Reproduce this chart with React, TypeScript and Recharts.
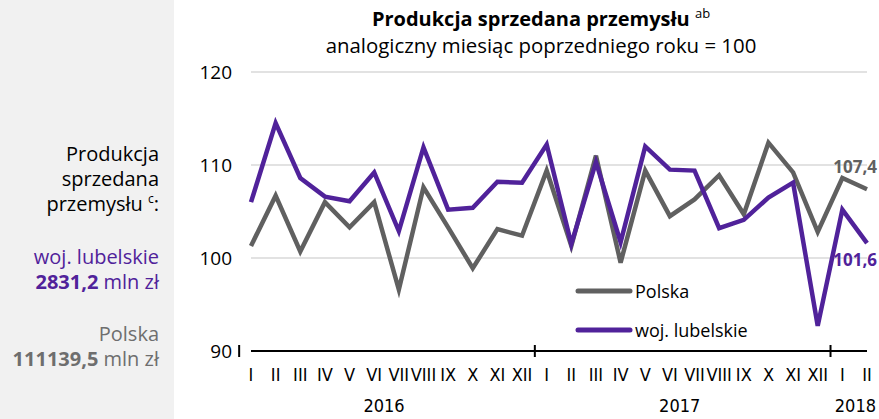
import React from "react";
import {
  LineChart,
  Line,
  XAxis,
  YAxis,
  CartesianGrid,
  Legend,
  ReferenceDot,
} from "recharts";

const months = [
  "I", "II", "III", "IV", "V", "VI", "VII", "VIII", "IX", "X", "XI", "XII",
  "I", "II", "III", "IV", "V", "VI", "VII", "VIII", "IX", "X", "XI", "XII",
  "I", "II",
];
const years = ["2016", "2016", "2016", "2016", "2016", "2016", "2016", "2016", "2016", "2016", "2016", "2016",
  "2017", "2017", "2017", "2017", "2017", "2017", "2017", "2017", "2017", "2017", "2017", "2017",
  "2018", "2018"];

const polska = [
  101.3, 106.7, 100.7, 106.0, 103.3, 106.0, 96.6, 107.6, 103.3, 98.9, 103.1, 102.4,
  109.4, 101.3, 111.0, 99.5, 109.4, 104.5, 106.3, 108.9, 104.7, 112.4, 109.2, 102.8,
  108.6, 107.4,
];
const lubelskie = [
  106.0, 114.5, 108.6, 106.6, 106.1, 109.2, 102.9, 111.9, 105.2, 105.4, 108.2, 108.1,
  112.2, 101.5, 110.3, 101.7, 112.0, 109.5, 109.4, 103.2, 104.1, 106.5, 108.1, 92.7,
  105.2, 101.6,
];
const yTicks = [90, 100, 110, 120];

const data = months.map((m, i) => ({
  idx: i,
  month: m,
  year: years[i],
  polska: polska[i],
  lubelskie: lubelskie[i],
}));

const LAST = months.length - 1;

const PURPLE = "#50229a";
const GRAY = "#606060";
const FONT = "'Open Sans', 'Noto Sans', sans-serif";
const NARROW = "'Liberation Sans Narrow', 'Arial Narrow', 'DejaVu Sans Condensed', sans-serif";

const W = 879;
const H = 419;
const M = { top: 72, right: 12, bottom: 0, left: 191 };
const YAXIS_W = 60;
const XAXIS_H = 68;
const PLOT_W = W - M.left - YAXIS_W - M.right;
const BAND = PLOT_W / months.length;

const MonthTick = (props: any) => {
  const { x, y, payload } = props;
  const i = payload.value as number;
  const m = months[i];
  const yr = years[i];
  const first = i === 0 || years[i - 1] !== yr;
  const count = years.filter((v) => v === yr).length;
  const pos = i - years.indexOf(yr);
  const center = (count - 1) / 2;
  const isShort = count < 12;
  const showYear = isShort ? pos === count - 1 : pos === Math.floor(center);
  const yearX = x + (center - pos) * BAND;
  return (
    <g>
      {first && (
        <line x1={x - BAND / 2} x2={x - BAND / 2} y1={y - 6} y2={y + 6} stroke="#000" strokeWidth={2} />
      )}
      <text x={x} y={y + 30} textAnchor="middle" fontFamily={NARROW} fontSize={18} fill="#000">
        {m}
      </text>
      {showYear && (
        <text
          x={isShort ? x + 9 : yearX - 2}
          y={y + 61}
          textAnchor={isShort ? "end" : "middle"}
          fontFamily={NARROW}
          fontSize={18}
          fill="#000"
        >
          {yr}
        </text>
      )}
    </g>
  );
};

const EndLabel = (color: string, text: string, dy: number) => (props: any) => {
  const vb = props.viewBox || {};
  const cx = vb.x + (vb.width || 0) / 2;
  const cy = vb.y + (vb.height || 0) / 2;
  return (
    <text x={cx + 10} y={cy + dy} textAnchor="end" fontFamily={FONT} fontWeight={700} fontSize={17} fill={color}>
      {text}
    </text>
  );
};

const fmt = (v: number) => v.toFixed(1).replace(".", ",");

const LegendContent = () => (
  <div style={{ fontFamily: FONT, fontSize: 18, color: "#000" }}>
    {[
      { name: "Polska", color: GRAY },
      { name: "woj. lubelskie", color: PURPLE },
    ].map((it, k) => (
      <div key={k} style={{ display: "flex", alignItems: "center", height: 39 }}>
        <svg width={60} height={8} style={{ marginRight: 1 }}>
          <line x1={4} x2={56} y1={4} y2={4} stroke={it.color} strokeWidth={5} strokeLinecap="round" />
        </svg>
        <span>{it.name}</span>
      </div>
    ))}
  </div>
);

export default function App() {
  return (
    <div style={{ position: "fixed", left: 0, top: 0, width: W, height: H, background: "#fff", overflow: "hidden" }}>
      <style>{`html,body{margin:0;padding:0;overflow:hidden;}`}</style>
      <div style={{ position: "absolute", left: 0, top: 0, width: 174, height: H, background: "#f1f1f1" }} />
      <div
        style={{
          position: "absolute",
          right: W - 159,
          top: 141,
          textAlign: "right",
          fontFamily: FONT,
          fontSize: 20,
          lineHeight: "25px",
          color: "#000",
          whiteSpace: "nowrap",
        }}
      >
        <div>Produkcja</div>
        <div>sprzedana</div>
        <div>
          przemysłu <sup style={{ fontSize: 12, lineHeight: 0 }}>c</sup>:
        </div>
        <div style={{ height: 28 }} />
        <div style={{ color: PURPLE }}>woj. lubelskie</div>
        <div style={{ color: PURPLE }}>
          <b>2831,2</b> mln zł
        </div>
        <div style={{ height: 27 }} />
        <div style={{ color: "#6e6e6e" }}>Polska</div>
        <div style={{ color: "#6e6e6e" }}>
          <b>111139,5</b> mln zł
        </div>
      </div>
      <div
        style={{
          position: "absolute",
          left: 541 - 300,
          width: 600,
          top: 5,
          textAlign: "center",
          fontFamily: FONT,
          color: "#000",
        }}
      >
        <div style={{ fontSize: 20, fontWeight: 700, lineHeight: "27px" }}>
          Produkcja sprzedana przemysłu <sup style={{ fontSize: 13, fontWeight: 400, lineHeight: 0 }}>ab</sup>
        </div>
        <div style={{ fontSize: 20.4, lineHeight: "27px" }}>analogiczny miesiąc poprzedniego roku = 100</div>
      </div>
      <div style={{ position: "absolute", left: 0, top: 0 }}>
        <LineChart width={W} height={H} data={data} margin={M} style={{ overflow: "visible" }}>
          <CartesianGrid vertical={false} stroke="#d9d9d9" strokeWidth={1.5} />
          <XAxis
            dataKey="idx"
            type="category"
            interval={0}
            tickLine={false}
            tickSize={0}
            tickMargin={0}
            axisLine={{ stroke: "#000", strokeWidth: 2 }}
            tick={<MonthTick />}
            height={XAXIS_H}
          />
          <YAxis
            domain={[90, 120]}
            ticks={yTicks}
            width={YAXIS_W}
            axisLine={false}
            tickLine={false}
            tickMargin={13}
            tick={{ fontFamily: FONT, fontSize: 19, fill: "#000" }}
          />
          <Legend
            layout="vertical"
            verticalAlign="middle"
            align="center"
            content={<LegendContent />}
            wrapperStyle={{ left: 574, top: 271, width: 220 }}
          />
          <Line
            dataKey="polska"
            name="Polska"
            stroke={GRAY}
            strokeWidth={4.5}
            dot={false}
            isAnimationActive={false}
          />
          <Line
            dataKey="lubelskie"
            name="woj. lubelskie"
            stroke={PURPLE}
            strokeWidth={4.5}
            dot={false}
            isAnimationActive={false}
          />
          <ReferenceDot
            x={LAST}
            y={polska[LAST]}
            r={0}
            fill="none"
            stroke="none"
            ifOverflow="visible"
            label={EndLabel(GRAY, fmt(polska[LAST]), -16)}
          />
          <ReferenceDot
            x={LAST}
            y={lubelskie[LAST]}
            r={0}
            fill="none"
            stroke="none"
            ifOverflow="visible"
            label={EndLabel(PURPLE, fmt(lubelskie[LAST]), 23)}
          />
        </LineChart>
      </div>
    </div>
  );
}
